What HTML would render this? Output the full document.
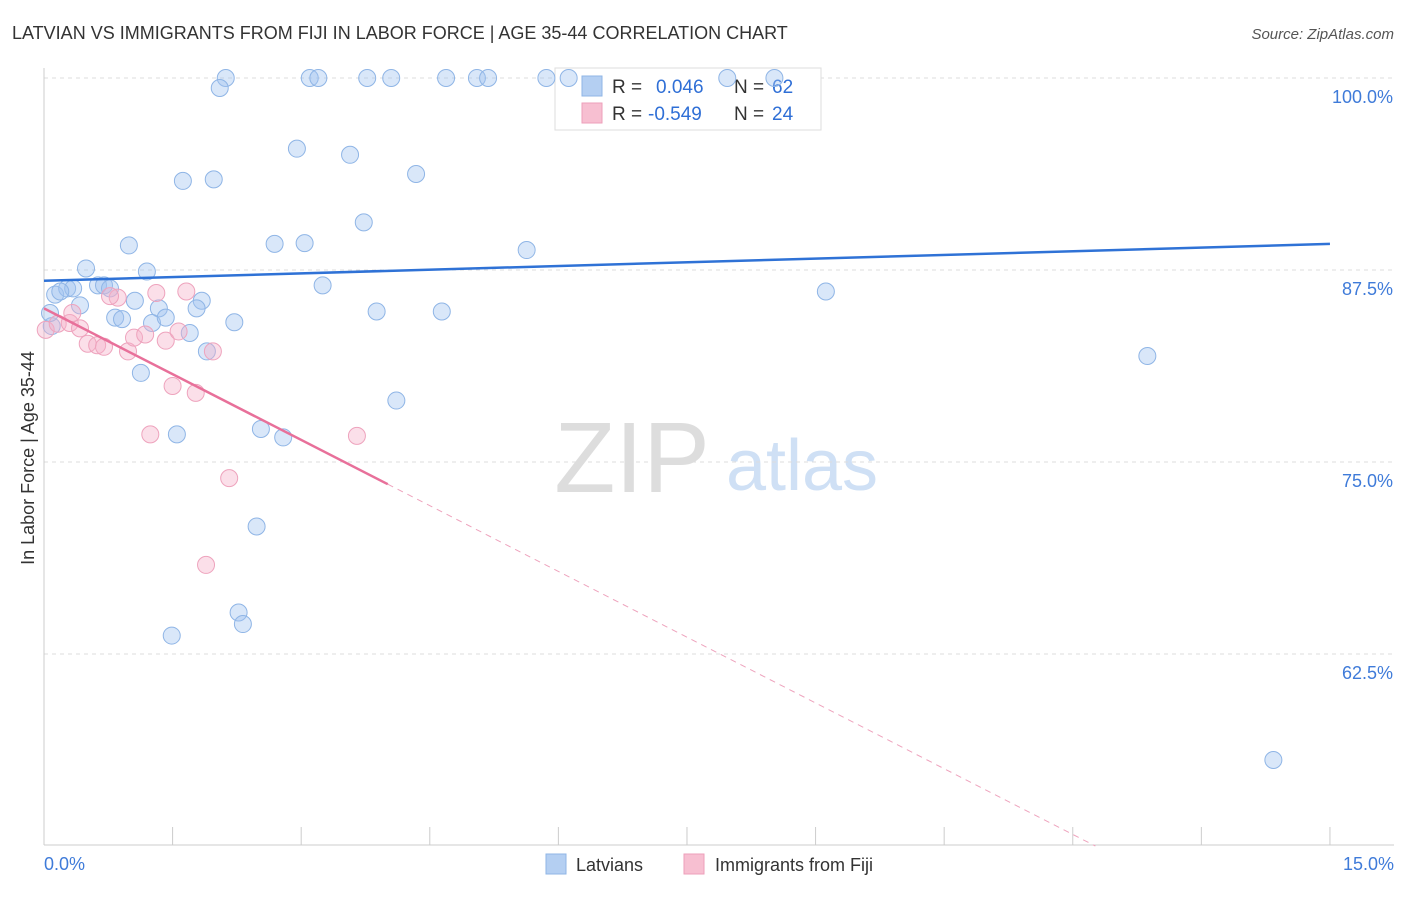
<!DOCTYPE html>
<html><head><meta charset="utf-8"><style>
body{margin:0;background:#fff;font-family:"Liberation Sans",sans-serif;}
svg text{font-family:"Liberation Sans",sans-serif;}
</style></head><body>
<svg id="chart" width="1406" height="892" xmlns="http://www.w3.org/2000/svg">
<text x="12" y="39" font-size="18" fill="#333">LATVIAN VS IMMIGRANTS FROM FIJI IN LABOR FORCE | AGE 35-44 CORRELATION CHART</text>
<text x="1394" y="39" font-size="15" fill="#555" text-anchor="end" font-style="italic">Source: ZipAtlas.com</text>
<text x="34" y="458" font-size="18" fill="#333" text-anchor="middle" transform="rotate(-90 34 458)">In Labor Force | Age 35-44</text>
<text x="632" y="492" font-size="100" fill="#ddd" font-family="Liberation Serif" text-anchor="middle">ZIP</text>
<text x="802" y="490" font-size="72" fill="#cfe0f5" text-anchor="middle">atlas</text>
<g id="grid"></g><g id="axes"></g>
<g>
<rect x="555" y="68" width="266" height="62" fill="#fff" stroke="#ddd"/>
<rect x="582" y="76" width="20" height="20" fill="#b4cff2" stroke="#8fb5e6"/>
<text x="612" y="93" font-size="19" fill="#333">R =</text><text x="656" y="93" font-size="19" fill="#2f6fd6">0.046</text>
<text x="734" y="93" font-size="19" fill="#333">N =</text><text x="772" y="93" font-size="19" fill="#2f6fd6">62</text>
<rect x="582" y="103" width="20" height="20" fill="#f7bfd1" stroke="#ee9fba"/>
<text x="612" y="120" font-size="19" fill="#333">R =</text><text x="648" y="120" font-size="19" fill="#2f6fd6">-0.549</text>
<text x="734" y="120" font-size="19" fill="#333">N =</text><text x="772" y="120" font-size="19" fill="#2f6fd6">24</text>
</g>
<g id="marks"></g>
<g>
<rect x="546" y="854" width="20" height="20" fill="#b4cff2" stroke="#8fb5e6"/>
<text x="576" y="871" font-size="18" fill="#333">Latvians</text>
<rect x="684" y="854" width="20" height="20" fill="#f7bfd1" stroke="#ee9fba"/>
<text x="715" y="871" font-size="18" fill="#333">Immigrants from Fiji</text>
</g>
</svg>
<script>
const blueX=[2.12,2.05,3.10,3.20,3.77,4.05,4.69,5.05,5.18,5.86,6.12,7.97,8.52,2.95,3.57,1.62,1.98,4.34,3.73,0.99,2.69,3.04,5.63,0.49,1.20,0.13,0.27,0.34,0.63,0.70,0.77,0.19,0.42,1.06,1.34,1.84,1.78,3.25,9.12,0.83,0.91,1.26,1.42,1.70,2.22,3.88,4.64,0.09,1.90,12.87,1.13,4.11,1.55,2.53,2.79,2.48,2.27,2.32,1.49,14.34,0.07];
const blueY=[100,99.35,100,100,100,100,100,100,100,100,100,100,100,95.4,95.0,93.3,93.4,93.75,90.6,89.1,89.2,89.25,88.8,87.6,87.4,85.9,86.3,86.3,86.5,86.5,86.3,86.1,85.2,85.5,85.0,85.5,85.0,86.5,86.1,84.4,84.3,84.05,84.4,83.4,84.1,84.8,84.8,83.85,82.2,81.9,80.8,79.0,76.8,77.15,76.6,70.8,65.2,64.45,63.7,55.6,84.7];
const pinkX=[0.02,0.16,0.30,0.42,0.33,0.51,0.62,0.70,0.86,0.77,0.98,1.05,1.18,1.31,1.42,1.57,1.66,1.97,1.50,1.77,1.24,3.65,2.16,1.89];
const pinkY=[83.6,84.0,84.05,83.7,84.7,82.7,82.6,82.5,85.7,85.8,82.2,83.1,83.3,86.0,82.9,83.5,86.1,82.2,79.95,79.5,76.8,76.7,73.95,68.3];
const yTicks=[100,87.5,75,62.5];
const yTickLabels=["100.0%","87.5%","75.0%","62.5%"];
const xTicks=[0,1.5,3,4.5,6,7.5,9,10.5,12,13.5,15];
const blueTrend=[86.8,89.2];
const pinkTrend=[85.0,-2.854];
const NS="http://www.w3.org/2000/svg";
const sx=v=>44+v*85.73, sy=v=>78+(100-v)*15.36;
function mk(p,t,a){const e=document.createElementNS(NS,t);for(const k in a)e.setAttribute(k,a[k]);document.getElementById(p).appendChild(e);return e;}
yTicks.forEach((t,i)=>{
 const l=mk('grid','line',{x1:44,x2:1394,y1:sy(t),y2:sy(t),stroke:'#ddd','stroke-dasharray':'4,4'});
 
 
 const tx=mk('grid','text',{x:1393,y:sy(t)+25,'font-size':18,fill:'#3f7bd9','text-anchor':'end'});
 tx.textContent=yTickLabels[i];
 
 
});
mk('axes','line',{x1:44,x2:44,y1:68,y2:845,stroke:'#ccc'});
mk('axes','line',{x1:44,x2:1394,y1:845,y2:845,stroke:'#ccc'});
xTicks.forEach(t=>{const l=mk('axes','line',{x1:sx(t),x2:sx(t),y1:827,y2:845,stroke:'#ccc'});
 
 });
let a=mk('axes','text',{x:44,y:870,'font-size':18,fill:'#3f7bd9'});a.textContent='0.0%';

a=mk('axes','text',{x:1394,y:870,'font-size':18,fill:'#3f7bd9','text-anchor':'end'});a.textContent='15.0%';

blueX.forEach((x,i)=>{const c=mk('marks','circle',{cx:sx(x),cy:sy(blueY[i]),r:8.5,fill:'rgba(160,195,240,0.4)',stroke:'#8fb5e6','stroke-width':1});
 
 });
pinkX.forEach((x,i)=>{const c=mk('marks','circle',{cx:sx(x),cy:sy(pinkY[i]),r:8.5,fill:'rgba(245,175,200,0.4)',stroke:'#eea3bd','stroke-width':1});
 
 });
let t=mk('marks','line',{x1:sx(0),y1:sy(blueTrend[0]),x2:sx(15),y2:sy(blueTrend[1]),stroke:'#2f72d6','stroke-width':2.5});


const pf=x=>pinkTrend[0]+pinkTrend[1]*x;
t=mk('marks','line',{x1:sx(0),y1:sy(pf(0)),x2:sx(4.01),y2:sy(pf(4.01)),stroke:'#e8709a','stroke-width':2.5});


const xe=(50-pinkTrend[0])/pinkTrend[1];
t=mk('marks','line',{x1:sx(4.01),y1:sy(pf(4.01)),x2:sx(xe),y2:sy(50),stroke:'#eea3bd','stroke-width':1,'stroke-dasharray':'6,5'});


</script>
</body></html>
